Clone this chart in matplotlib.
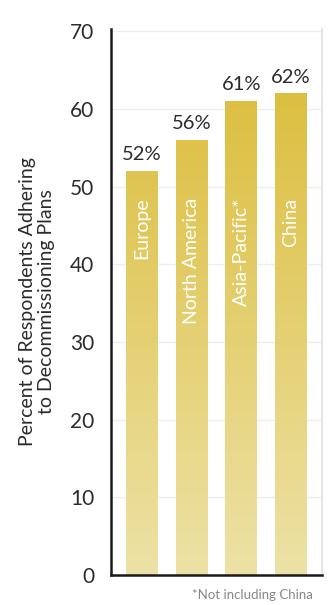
import matplotlib
matplotlib.use("Agg")
import matplotlib.pyplot as plt
import numpy as np
from matplotlib.colors import LinearSegmentedColormap

categories = ["Europe", "North America", "Asia-Pacific*", "China"]
values = [52, 56, 61, 62]
value_labels = ["52%", "56%", "61%", "62%"]
yticks = [0, 10, 20, 30, 40, 50, 60, 70]

plt.rcParams['font.family'] = ['Lato', 'DejaVu Sans']

fig = plt.figure(figsize=(3.28, 6.05), dpi=100)
W, H = 328, 605
ax = fig.add_axes([111 / W, 1 - 575 / H, (322 - 111) / W, (575 - 29) / H])

cmap = LinearSegmentedColormap.from_list("g", ["#EDE2A6", "#DABA33"])
x = np.arange(len(categories))
bars = ax.bar(x, values, width=0.645, color="none", zorder=2)
grad = np.linspace(0, 1, 256).reshape(-1, 1)
for b in bars:
    im = ax.imshow(grad, extent=[b.get_x(), b.get_x() + b.get_width(), 0, 70],
                   origin="lower", aspect="auto", cmap=cmap, zorder=2)
    im.set_clip_path(b)

ax.set_xlim(-0.625, 3.63)
ax.set_ylim(0, 70.3)

for xi, v, lab in zip(x, values, value_labels):
    ax.text(xi, v + 1.0, lab, ha="center", va="bottom", fontsize=14.5,
            color="#2b2b2b", zorder=3)
for xi, c in zip(x, categories):
    ax.text(xi, 48.6, c, ha="center", va="top", rotation=90, fontsize=14,
            color="white", zorder=3)

ax.set_yticks(yticks)
ax.set_yticklabels([str(t) for t in yticks], fontsize=15, color="#2b2b2b")
ax.tick_params(axis="y", length=0, pad=12)
ax.set_xticks([])
ax.grid(axis="y", color="#EEEEEE", linewidth=1, zorder=0)
ax.set_axisbelow(True)
ax.spines["top"].set_visible(False)
ax.spines["right"].set_color("#E6E6E6")
ax.spines["right"].set_linewidth(1.5)
ax.spines["left"].set_color("#1a1a1a")
ax.spines["left"].set_linewidth(1.8)
ax.spines["bottom"].set_color("#1a1a1a")
ax.spines["bottom"].set_linewidth(1.8)

ax.set_ylabel("Percent of Respondents Adhering\nto Decommissioning Plans",
              fontsize=14, color="#2b2b2b", labelpad=11, linespacing=1.1)

fig.text(313 / W, 1 - 595 / H, "*Not including China", ha="right", va="center",
         fontsize=9.5, color="#888888")

fig.savefig("out.png", dpi=100)
